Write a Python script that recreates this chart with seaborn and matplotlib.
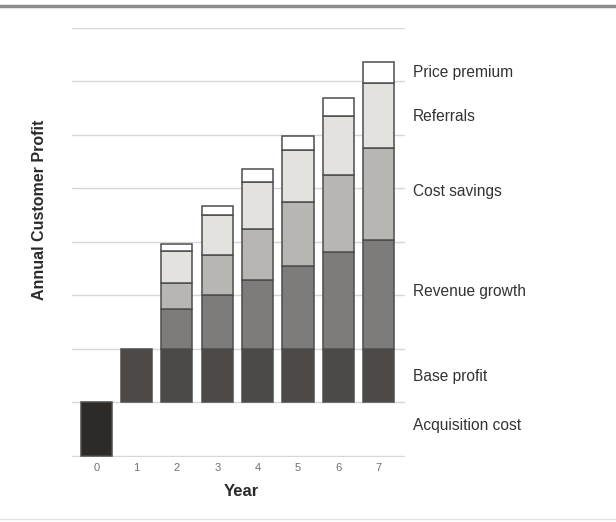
import numpy as np
import pandas as pd
import seaborn as sns
import matplotlib
matplotlib.use("Agg")
import matplotlib.pyplot as plt
from matplotlib.lines import Line2D

# Customer profit components by year (stacked from the bottom up)
years = [0, 1, 2, 3, 4, 5, 6, 7]
acquisition_cost = [-1.0, 0, 0, 0, 0, 0, 0, 0]
base_profit = [0, 1.0, 1.0, 1.0, 1.0, 1.0, 1.0, 1.0]
revenue_growth = [0, 0, 0.75, 1.00, 1.28, 1.56, 1.81, 2.04]
cost_savings = [0, 0, 0.49, 0.76, 0.96, 1.18, 1.45, 1.71]
referrals = [0, 0, 0.60, 0.75, 0.89, 0.97, 1.09, 1.22]
price_premium = [0, 0, 0.12, 0.17, 0.24, 0.28, 0.34, 0.39]

segment_names = ["Acquisition cost", "Base profit", "Revenue growth",
                 "Cost savings", "Referrals", "Price premium"]
segment_values = [acquisition_cost, base_profit, revenue_growth,
                  cost_savings, referrals, price_premium]
segment_colors = ["#2e2a28", "#4c4947", "#7e7c7a", "#b8b6b3", "#e3e2df", "#ffffff"]

sns.set_theme(style="white")
plt.rcParams["font.family"] = ["Liberation Sans", "DejaVu Sans"]

fig = plt.figure(figsize=(6.16, 5.22), dpi=100)
ax = fig.add_axes([72 / 616, 1 - 457 / 522, 333 / 616, 429 / 522])

# Stack the positive segments; the acquisition cost hangs below zero
stack = np.zeros(len(years))
for name, vals, color in zip(segment_names, segment_values, segment_colors):
    vals = np.asarray(vals, dtype=float)
    mask = vals != 0
    df = pd.DataFrame({"Year": np.asarray(years)[mask], "Value": vals[mask]})
    bottoms = np.where(vals[mask] < 0, 0, stack[mask])
    sns.barplot(data=df, x="Year", y="Value", bottom=bottoms, native_scale=True,
                width=0.77, color=color, saturation=1, errorbar=None,
                edgecolor="#4d4d4d", linewidth=1.1, ax=ax)
    stack = stack + np.where(vals > 0, vals, 0)

ax.set_xlim(-0.6, 7.65)
ax.set_ylim(-1.02, 7)
ax.set_yticks(np.arange(-1, 8))
ax.set_yticklabels([])
ax.yaxis.grid(True, color="#d6d6d6", linewidth=1.0)
ax.set_axisbelow(True)
ax.set_xticks(years)
ax.set_xticklabels([str(y) for y in years], color="#707070", fontsize=8)
ax.tick_params(axis="x", length=0, pad=4)
ax.tick_params(axis="y", length=0)
for s in ax.spines.values():
    s.set_visible(False)
ax.set_xlabel("")
ax.set_ylabel("")

fig.text(241 / 616, 1 - 492 / 522, "Year", ha="center", va="center",
         fontsize=12, fontweight="bold", color="#2a2a2a")
fig.text(40 / 616, 1 - 210 / 522, "Annual Customer Profit", ha="center", va="center",
         rotation=90, fontsize=11.5, fontweight="bold", color="#2a2a2a")

# Component labels to the right of the bars
label_y = {"Price premium": 6.16, "Referrals": 5.34, "Cost savings": 3.95,
           "Revenue growth": 2.07, "Base profit": 0.48, "Acquisition cost": -0.44}
trans = matplotlib.transforms.blended_transform_factory(ax.transAxes, ax.transData)
for name in segment_names:
    ax.text((413 - 72) / 333, label_y[name], name, transform=trans, ha="left",
            va="center", fontsize=11.2, color="#333333", clip_on=False)

# Frame rules across the page
fig.add_artist(Line2D([0, 1], [1 - 5.5 / 522] * 2, color="#8c8c8c", linewidth=2.5))
fig.add_artist(Line2D([0, 1], [1 - 519 / 522] * 2, color="#e4e4e4", linewidth=1.0))

fig.savefig("out.png", dpi=100, facecolor="white")
